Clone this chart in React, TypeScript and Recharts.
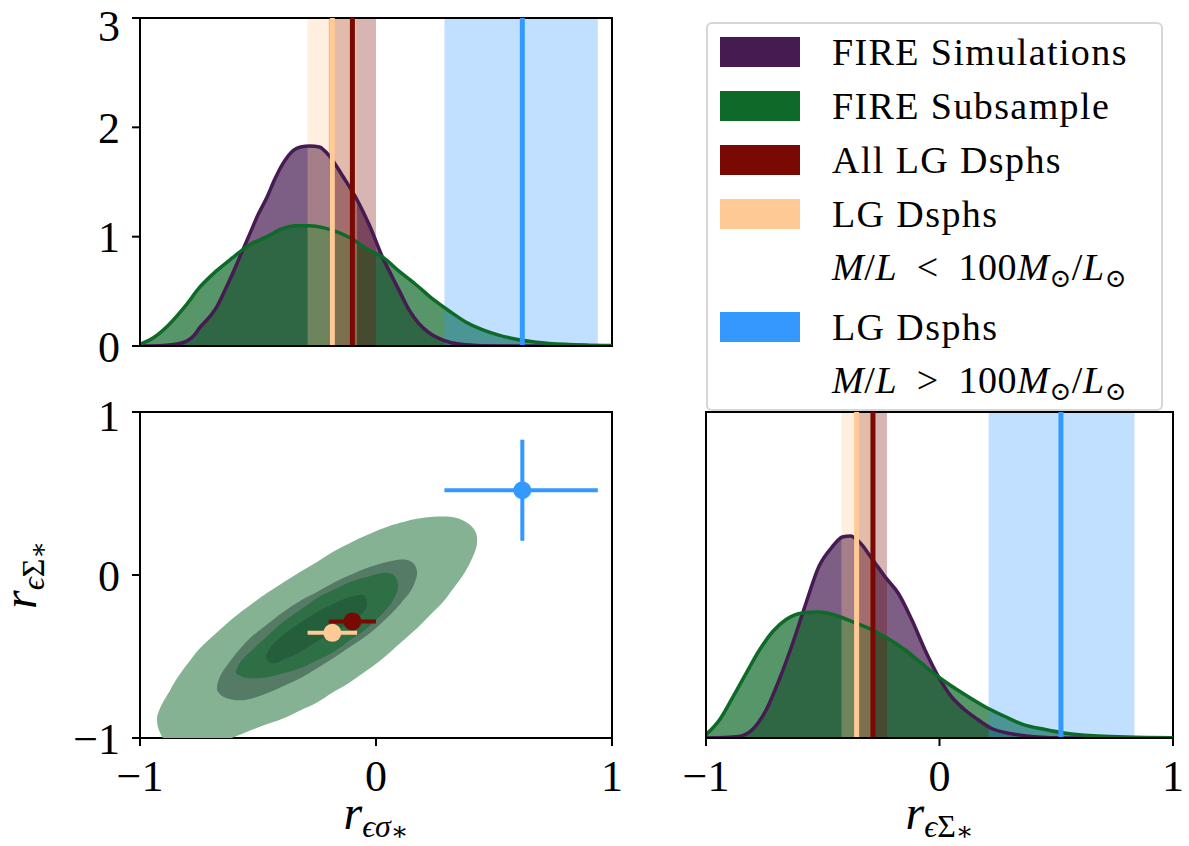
import React from 'react';
import {
  ComposedChart,
  Area,
  Line,
  XAxis,
  YAxis,
  ReferenceArea,
  ReferenceLine,
  Scatter,
} from 'recharts';

// ---------------- DATA ----------------
// KDE of r_{eps sigma*}  (x, density)
const simSigma: [number, number][] = [
  [-1.0, 0.0], [-0.9, 0.005], [-0.82, 0.03], [-0.77, 0.1], [-0.746, 0.17], [-0.7, 0.28],
  [-0.674, 0.36], [-0.64, 0.51], [-0.606, 0.67], [-0.57, 0.85], [-0.534, 1.03], [-0.5, 1.2],
  [-0.462, 1.36], [-0.43, 1.52], [-0.394, 1.67], [-0.35, 1.79], [-0.32, 1.82], [-0.28, 1.83],
  [-0.24, 1.82], [-0.195, 1.73], [-0.14, 1.55], [-0.081, 1.34], [-0.025, 1.09], [0.03, 0.8],
  [0.06, 0.67], [0.1, 0.5], [0.14, 0.33], [0.18, 0.21], [0.22, 0.13], [0.29, 0.05],
  [0.36, 0.015], [0.45, 0.003], [0.6, 0.0], [1.0, 0.0],
];
const subSigma: [number, number][] = [
  [-1.0, 0.015], [-0.94, 0.08], [-0.88, 0.19], [-0.81, 0.36], [-0.746, 0.54], [-0.68, 0.68],
  [-0.606, 0.81], [-0.54, 0.92], [-0.462, 1.0], [-0.4, 1.07], [-0.34, 1.1], [-0.28, 1.1],
  [-0.22, 1.08], [-0.16, 1.04], [-0.11, 0.99], [-0.04, 0.89], [0.03, 0.81], [0.1, 0.68],
  [0.17, 0.56], [0.24, 0.43], [0.31, 0.32], [0.38, 0.22], [0.45, 0.15], [0.52, 0.1],
  [0.6, 0.06], [0.68, 0.035], [0.8, 0.015], [0.9, 0.008], [1.0, 0.005],
];
// KDE of r_{eps Sigma*}
const simSurf: [number, number][] = [
  [-1.0, 0.0], [-0.86, 0.015], [-0.8, 0.08], [-0.742, 0.26], [-0.686, 0.54], [-0.629, 0.87],
  [-0.572, 1.24], [-0.516, 1.58], [-0.459, 1.76], [-0.416, 1.85], [-0.381, 1.86], [-0.346, 1.81],
  [-0.289, 1.65], [-0.232, 1.48], [-0.176, 1.33], [-0.119, 1.09], [-0.062, 0.81], [-0.006, 0.57],
  [0.051, 0.38], [0.108, 0.26], [0.164, 0.17], [0.221, 0.09], [0.306, 0.04], [0.391, 0.015],
  [0.476, 0.003], [0.6, 0.0], [1.0, 0.0],
];
const subSurf: [number, number][] = [
  [-1.0, 0.03], [-0.941, 0.17], [-0.884, 0.38], [-0.827, 0.6], [-0.771, 0.81], [-0.714, 0.98],
  [-0.657, 1.09], [-0.586, 1.15], [-0.516, 1.16], [-0.445, 1.13], [-0.374, 1.07], [-0.303, 1.01],
  [-0.232, 0.93], [-0.147, 0.81], [-0.062, 0.66], [0.023, 0.52], [0.108, 0.4], [0.193, 0.29],
  [0.278, 0.2], [0.363, 0.12], [0.448, 0.08], [0.533, 0.046], [0.66, 0.02], [0.8, 0.01], [1.0, 0.003],
];

// 2D density contours of the FIRE subsample: outline vertices (x, y) read around each ring
const contourOuter: [number, number][] = [
  [-0.928, -0.88], [-0.919, -0.831], [-0.903, -0.782], [-0.873, -0.708], [-0.843, -0.634],
  [-0.797, -0.542], [-0.746, -0.449], [-0.678, -0.357], [-0.606, -0.265], [-0.534, -0.185],
  [-0.462, -0.111], [-0.39, -0.043], [-0.322, 0.018], [-0.25, 0.08], [-0.182, 0.142],
  [-0.11, 0.197], [-0.038, 0.246], [0.034, 0.289], [0.102, 0.32], [0.174, 0.345],
  [0.242, 0.357], [0.314, 0.357], [0.364, 0.338], [0.398, 0.308], [0.424, 0.258],
  [0.428, 0.197], [0.419, 0.142], [0.398, 0.074], [0.369, 0.0], [0.326, -0.086],
  [0.284, -0.166], [0.229, -0.246], [0.174, -0.326], [0.102, -0.418], [0.03, -0.511],
  [-0.038, -0.585], [-0.11, -0.658], [-0.182, -0.72], [-0.25, -0.782], [-0.322, -0.831],
  [-0.394, -0.88], [-0.5, -0.935], [-0.606, -0.997], [-0.703, -1.058], [-0.809, -1.077],
  [-0.881, -1.04], [-0.919, -0.954],
];
const contourSecond: [number, number][] = [
  [-0.674, -0.689], [-0.661, -0.622], [-0.631, -0.554], [-0.585, -0.468], [-0.534, -0.388],
  [-0.466, -0.308], [-0.394, -0.228], [-0.322, -0.16], [-0.25, -0.105], [-0.182, -0.049],
  [-0.11, 0.0], [-0.038, 0.043], [0.03, 0.074], [0.089, 0.092], [0.131, 0.092],
  [0.161, 0.068], [0.174, 0.018], [0.165, -0.043], [0.144, -0.105], [0.106, -0.172],
  [0.059, -0.246], [0.004, -0.32], [-0.055, -0.388], [-0.119, -0.449], [-0.182, -0.511],
  [-0.25, -0.572], [-0.322, -0.634], [-0.394, -0.683], [-0.462, -0.726], [-0.525, -0.757],
  [-0.589, -0.769], [-0.64, -0.751], [-0.665, -0.726],
];
const contourThird: [number, number][] = [
  [-0.593, -0.597], [-0.572, -0.529], [-0.534, -0.474], [-0.466, -0.382], [-0.394, -0.289],
  [-0.322, -0.215], [-0.25, -0.142], [-0.182, -0.092], [-0.11, -0.043], [-0.038, -0.012],
  [0.03, 0.012], [0.068, 0.006], [0.089, -0.031], [0.093, -0.08], [0.081, -0.129],
  [0.059, -0.185], [0.013, -0.258], [-0.038, -0.326], [-0.11, -0.4], [-0.182, -0.474],
  [-0.25, -0.523], [-0.322, -0.572], [-0.394, -0.603], [-0.462, -0.628], [-0.525, -0.634],
  [-0.568, -0.622],
];
const contourInner: [number, number][] = [
  [-0.466, -0.505], [-0.441, -0.431], [-0.394, -0.369], [-0.322, -0.295], [-0.25, -0.228],
  [-0.182, -0.178], [-0.11, -0.135], [-0.055, -0.123], [-0.038, -0.172], [-0.047, -0.215],
  [-0.081, -0.265], [-0.131, -0.308], [-0.182, -0.351], [-0.25, -0.406], [-0.322, -0.474],
  [-0.381, -0.511], [-0.436, -0.542],
];

// Local Group dwarf spheroidal measurements: All LG, M/L<100, M/L>100
const lgSigma = [-0.1, -0.185, 0.62];
const lgSigmaLow = [-0.2, -0.29, 0.29];
const lgSigmaHigh = [0.0, -0.08, 0.94];
const lgSurf = [-0.285, -0.355, 0.52];
const lgSurfLow = [-0.345, -0.42, 0.21];
const lgSurfHigh = [-0.225, -0.29, 0.835];
// vertical error bars shown in the 2D panel (hidden under the markers for the first two)
const lgSurfErrShown = [0.05, 0.05, 0.31];

const corrTicks = [-1, 0, 1];
const densityTicks = [0, 1, 2, 3];

const legendLabels = ['FIRE Simulations', 'FIRE Subsample', 'All LG Dsphs', 'LG Dsphs', 'LG Dsphs'];
const legendSub = ['', '', '', '<', '>'];

// ---------------- STYLE ----------------
const FONT = "'Liberation Serif', 'DejaVu Serif', serif";
const PURPLE = '#461b52';
const GREEN = '#0e6a28';
const LG_COLORS = ['#7b0903', '#ffca96', '#3399ff'];
const CONTOUR_COLORS = ['#85b292', '#557a66', '#2f6f45', '#245e3b'];
const LEGEND_COLORS = [PURPLE, GREEN, LG_COLORS[0], LG_COLORS[1], LG_COLORS[2]];
const TICK_FS = 44;
const LINE_W = 3.5;

const fmt = (v: number) => (v < 0 ? `\u2212${Math.abs(v)}` : `${v}`);
const toXY = (a: [number, number][]) => a.map(([x, y]) => ({ x, y }));

const axisProps = {
  axisLine: { stroke: '#000', strokeWidth: 2 },
  tickLine: { stroke: '#000', strokeWidth: 2 },
  tickSize: 8,
};

const tickStyle = { fontSize: TICK_FS, fill: '#000', fontFamily: FONT };

// smooth closed outline through the pixel points that Recharts computed
function closedPath(pts: { x: number; y: number }[]) {
  const n = pts.length;
  if (n < 3) return '';
  const P = (i: number) => pts[(i + n) % n];
  let d = `M${P(0).x},${P(0).y}`;
  for (let i = 0; i < n; i++) {
    const p0 = P(i - 1), p1 = P(i), p2 = P(i + 1), p3 = P(i + 2);
    const c1x = p1.x + (p2.x - p0.x) / 6, c1y = p1.y + (p2.y - p0.y) / 6;
    const c2x = p2.x - (p3.x - p1.x) / 6, c2y = p2.y - (p3.y - p1.y) / 6;
    d += `C${c1x},${c1y} ${c2x},${c2y} ${p2.x},${p2.y}`;
  }
  return d + 'Z';
}

function MathLabel({ x, y, surf, rotate }: { x: number; y: number; surf: boolean; rotate?: boolean }) {
  return (
    <text
      x={x}
      y={y}
      textAnchor="middle"
      fontFamily={FONT}
      fill="#000"
      transform={rotate ? `rotate(-90, ${x}, ${y})` : undefined}
    >
      <tspan fontSize={48} fontStyle="italic">r</tspan>
      <tspan fontSize={32} fontStyle="italic" dy={8}>{'\u03f5'}</tspan>
      {surf ? (
        <tspan fontSize={32}>{'\u03a3'}</tspan>
      ) : (
        <tspan fontSize={32} fontStyle="italic">{'\u03c3'}</tspan>
      )}
      <tspan fontSize={26} dy={3}>{'\u2217'}</tspan>
    </text>
  );
}

function Dot(props: any) {
  const { cx, cy, fill } = props;
  if (cx == null || cy == null) return null;
  return <circle cx={cx} cy={cy} r={9} fill={fill} />;
}

const NoSymbol = () => <g />;

export default function App() {
  const simS = toXY(simSigma);
  const subS = toXY(subSigma);
  const simF = toXY(simSurf);
  const subF = toXY(subSurf);
  const contours = [contourOuter, contourSecond, contourThird, contourInner].map(toXY);
  // draw order of the points: blue, red, orange
  const pointOrder = [2, 0, 1];

  const bands = (lo: number[], hi: number[], ymin: number, ymax: number) =>
    lo.map((l, i) => (
      <ReferenceArea
        key={`band${i}`}
        x1={l}
        x2={hi[i]}
        y1={ymin}
        y2={ymax}
        fill={LG_COLORS[i]}
        fillOpacity={0.3}
        stroke="none"
        ifOverflow="hidden"
      />
    ));
  const lines = (c: number[]) =>
    c.map((v, i) => (
      <ReferenceLine key={`line${i}`} x={v} stroke={LG_COLORS[i]} strokeWidth={5} ifOverflow="hidden" />
    ));

  const kde = (sim: any[], sub: any[]) => [
    <Area key="simFill" data={sim} dataKey="y" type="monotone" stroke="none" fill={PURPLE} fillOpacity={0.7} isAnimationActive={false} />,
    <Area key="subFill" data={sub} dataKey="y" type="monotone" stroke="none" fill={GREEN} fillOpacity={0.7} isAnimationActive={false} />,
    <Line key="simLine" data={sim} dataKey="y" type="monotone" stroke={PURPLE} strokeWidth={LINE_W} dot={false} activeDot={false} isAnimationActive={false} />,
    <Line key="subLine" data={sub} dataKey="y" type="monotone" stroke={GREEN} strokeWidth={LINE_W} dot={false} activeDot={false} isAnimationActive={false} />,
  ];

  const rowCenters = [28, 82, 136, 190, 303];

  return (
    <div style={{ position: 'absolute', left: 0, top: 0, width: 1189, height: 846, background: '#fff', fontFamily: FONT }}>
      {/* Top-left: KDE of r_{eps sigma} */}
      <div style={{ position: 'absolute', left: 0, top: 0 }}>
        <ComposedChart width={640} height={380} margin={{ top: 18, right: 28, bottom: 4, left: 20 }}>
          <XAxis
            type="number"
            dataKey="x"
            domain={[-1, 1]}
            ticks={corrTicks}
            allowDataOverflow
            height={30}
            tick={false}
            {...axisProps}
          />
          <YAxis
            type="number"
            domain={[0, 3]}
            ticks={densityTicks}
            allowDataOverflow
            width={120}
            tick={tickStyle}
            tickMargin={12}
            tickFormatter={fmt}
            {...axisProps}
          />
          {kde(simS, subS)}
          {bands(lgSigmaLow, lgSigmaHigh, 0, 3)}
          {lines(lgSigma)}
          <ReferenceArea x1={-1} x2={1} y1={0} y2={3} fill="none" stroke="#000" strokeWidth={2} />
        </ComposedChart>
      </div>

      {/* Bottom-left: 2D contours */}
      <div style={{ position: 'absolute', left: 0, top: 390 }}>
        <ComposedChart width={640} height={456} margin={{ top: 22, right: 28, bottom: 0, left: 20 }}>
          <XAxis
            type="number"
            dataKey="x"
            domain={[-1, 1]}
            ticks={corrTicks}
            allowDataOverflow
            height={108}
            tick={tickStyle}
            tickMargin={14}
            tickFormatter={fmt}
            {...axisProps}
            label={{
              content: (p: any) => {
                const vb = p.viewBox || {};
                return <MathLabel x={vb.x + vb.width / 2} y={vb.y + 91} surf={false} />;
              },
            }}
          />
          <YAxis
            type="number"
            dataKey="y"
            domain={[-1, 1]}
            ticks={corrTicks}
            allowDataOverflow
            width={120}
            tick={tickStyle}
            tickMargin={12}
            tickFormatter={fmt}
            {...axisProps}
            label={{
              content: (p: any) => {
                const vb = p.viewBox || {};
                return <MathLabel x={vb.x + vb.width - 104} y={vb.y + vb.height / 2} surf={true} rotate />;
              },
            }}
          />
          {contours.map((c, i) => (
            <Scatter
              key={`ct${i}`}
              data={c}
              dataKey="y"
              fill={CONTOUR_COLORS[i]}
              shape={NoSymbol}
              lineType="joint"
              line={(lp: any) => (
                <path d={closedPath(lp.points || [])} fill={CONTOUR_COLORS[i]} stroke="none" />
              )}
              isAnimationActive={false}
            />
          ))}
          {pointOrder.map((i) => [
            <Scatter
              key={`hx${i}`}
              data={[
                { x: lgSigmaLow[i], y: lgSurf[i] },
                { x: lgSigmaHigh[i], y: lgSurf[i] },
              ]}
              dataKey="y"
              fill={LG_COLORS[i]}
              shape={NoSymbol}
              lineType="joint"
              line={{ stroke: LG_COLORS[i], strokeWidth: 4 }}
              isAnimationActive={false}
            />,
            <Scatter
              key={`vy${i}`}
              data={[
                { x: lgSigma[i], y: lgSurf[i] - lgSurfErrShown[i] },
                { x: lgSigma[i], y: lgSurf[i] + lgSurfErrShown[i] },
              ]}
              dataKey="y"
              fill={LG_COLORS[i]}
              shape={NoSymbol}
              lineType="joint"
              line={{ stroke: LG_COLORS[i], strokeWidth: 4 }}
              isAnimationActive={false}
            />,
            <Scatter
              key={`pt${i}`}
              data={[{ x: lgSigma[i], y: lgSurf[i] }]}
              dataKey="y"
              fill={LG_COLORS[i]}
              shape={<Dot />}
              isAnimationActive={false}
            />,
          ])}
          <ReferenceArea x1={-1} x2={1} y1={-1} y2={1} fill="none" stroke="#000" strokeWidth={2} />
        </ComposedChart>
      </div>

      {/* Bottom-right: KDE of r_{eps Sigma} */}
      <div style={{ position: 'absolute', left: 640, top: 390 }}>
        <ComposedChart width={549} height={456} margin={{ top: 22, right: 16, bottom: 0, left: 16 }}>
          <XAxis
            type="number"
            dataKey="x"
            domain={[-1, 1]}
            ticks={corrTicks}
            allowDataOverflow
            height={108}
            tick={tickStyle}
            tickMargin={14}
            tickFormatter={fmt}
            {...axisProps}
            label={{
              content: (p: any) => {
                const vb = p.viewBox || {};
                return <MathLabel x={vb.x + vb.width / 2} y={vb.y + 91} surf={true} />;
              },
            }}
          />
          <YAxis
            type="number"
            domain={[0, 3]}
            ticks={densityTicks}
            allowDataOverflow
            width={50}
            tick={false}
            {...axisProps}
          />
          {kde(simF, subF)}
          {bands(lgSurfLow, lgSurfHigh, 0, 3)}
          {lines(lgSurf)}
          <ReferenceArea x1={-1} x2={1} y1={0} y2={3} fill="none" stroke="#000" strokeWidth={2} />
        </ComposedChart>
      </div>

      {/* Legend */}
      <div
        style={{
          position: 'absolute',
          left: 706,
          top: 22,
          width: 457,
          height: 389,
          boxSizing: 'border-box',
          border: '2px solid #d6d6d6',
          borderRadius: 6,
          background: 'rgba(255,255,255,0.8)',
        }}
      >
        <svg width={453} height={385} style={{ display: 'block' }}>
          {legendLabels.map((label, i) => (
            <g key={`lg${i}`}>
              <rect x={12} y={rowCenters[i] - 15} width={80} height={30} fill={LEGEND_COLORS[i]} />
              <text x={124} y={rowCenters[i] + 12.5} fontFamily={FONT} fontSize={38} fill="#000" letterSpacing={1.4}>
                {label}
              </text>
              {legendSub[i] ? (
                <text x={124} y={rowCenters[i] + 66} fontFamily={FONT} fontSize={38} fill="#000" letterSpacing={0.6}>
                  <tspan fontStyle="italic">M</tspan>
                  <tspan>/</tspan>
                  <tspan fontStyle="italic">L</tspan>
                  <tspan>{`\u2002${legendSub[i]}\u2002100`}</tspan>
                  <tspan fontStyle="italic">M</tspan>
                  <tspan fontSize={26} dy={7}>{'\u2299'}</tspan>
                  <tspan dy={-7}>/</tspan>
                  <tspan fontStyle="italic">L</tspan>
                  <tspan fontSize={26} dy={7}>{'\u2299'}</tspan>
                </text>
              ) : null}
            </g>
          ))}
        </svg>
      </div>
    </div>
  );
}
